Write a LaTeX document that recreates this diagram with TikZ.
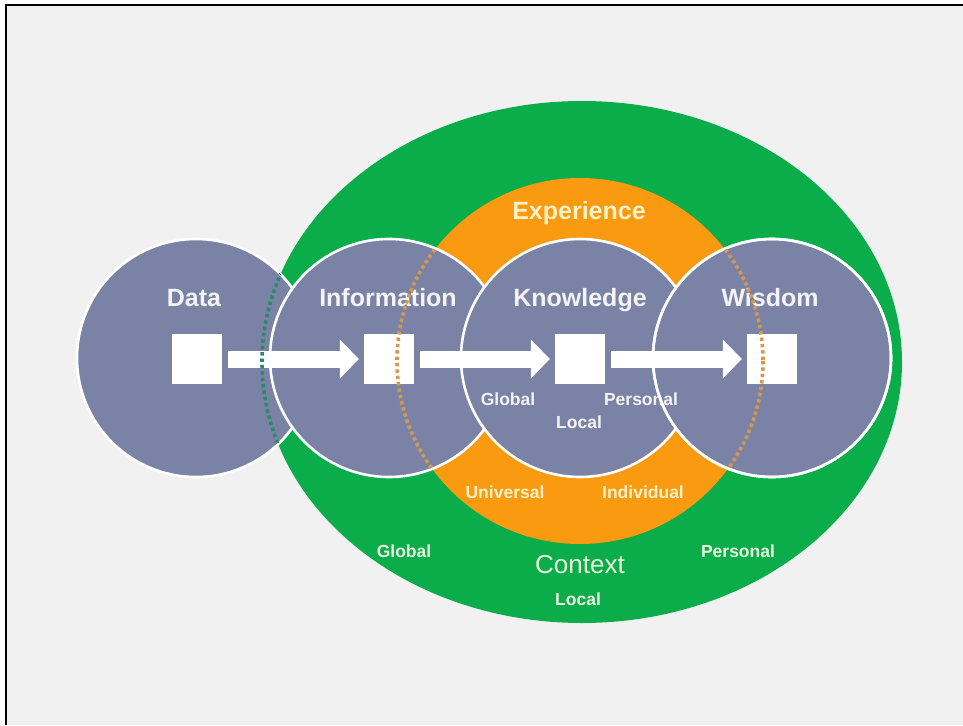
\documentclass[tikz,border=0pt]{standalone}
\usepackage{fontspec}
\setmainfont{Liberation Sans}
\usetikzlibrary{arrows.meta}

\definecolor{pagebg}{HTML}{F1F1F1}
\definecolor{ctxgreen}{HTML}{0BAD4B}
\definecolor{exporange}{HTML}{FA9A10}
\definecolor{slate}{HTML}{7A83A5}
\definecolor{greendot}{HTML}{2A8A66}
\definecolor{orangedot}{HTML}{D6984C}
\definecolor{labelwhite}{HTML}{F4F4F6}
\definecolor{cream}{HTML}{FFF2C8}
\definecolor{palegreen}{HTML}{EAF4DC}

\tikzset{
  stage/.style={circle, minimum size=238pt, inner sep=0pt, fill=slate, draw=white, line width=2.6pt},
  ring/.style={draw=white, line width=2.6pt},
  token/.style={rectangle, minimum size=50pt, inner sep=0pt, fill=white},
  flow/.style={white, line width=17pt, shorten <=6pt, shorten >=5pt,
    -{Triangle[length=19pt,width=38pt]}},
  biglabel/.style={anchor=base, inner sep=0pt, font=\fontsize{25}{28}\selectfont\bfseries, text=labelwhite},
  smalllabel/.style={anchor=base, inner sep=0pt, font=\fontsize{17.5}{20}\selectfont\bfseries},
  dotline/.style={line width=3.6pt, dash pattern=on 3.4pt off 3pt}
}

\begin{document}
\begin{tikzpicture}[x=1pt, y=-1pt]
  \useasboundingbox (0,0) rectangle (963,725);
  \fill[white] (0,0) rectangle (963,725);
  \fill[pagebg] (6,5) rectangle (963,725);
  \draw[black, line width=2pt] (6,725) -- (6,5) -- (963,5);

  % context and experience backgrounds
  \fill[ctxgreen] (582,362) ellipse [x radius=320, y radius=261];
  \fill[exporange] (580,361) circle [radius=183];

  % the four stages
  \node[stage] (data) at (196,358) {};
  \node[stage] (info) at (389,358) {};
  \node[stage] (know) at (580,358) {};
  \node[stage] (wis)  at (772,358) {};

  % tokens and flow arrows
  \node[token] (sqdata) at (197,359) {};
  \node[token] (sqinfo) at (389,359) {};
  \node[token] (sqknow) at (580,359) {};
  \node[token] (sqwis)  at (772,359) {};
  \draw[flow] (sqdata.east) -- (sqinfo.west);
  \draw[flow] (sqinfo.east) -- (sqknow.west);
  \draw[flow] (sqknow.east) -- (sqwis.west);

  % stage titles
  \node[biglabel] (tdata) at (194,306) {Data};
  \node[biglabel] (tinfo) at (388,306) {Information};
  \node[biglabel] (tknow) at (580,306) {Knowledge};
  \node[biglabel] (twis)  at (770,306) {Wisdom};
  \node[biglabel, text=cream] (texp) at (579,219) {Experience};

  % knowledge scopes
  \node[smalllabel, text=labelwhite] (kglob) at (508,405) {Global};
  \node[smalllabel, text=labelwhite] (kpers) at (641,405) {Personal};
  \node[smalllabel, text=labelwhite] (kloc)  at (579,428) {Local};

  % experience scopes
  \node[smalllabel, text=cream] (euni) at (505,498) {Universal};
  \node[smalllabel, text=cream] (eind) at (643,498) {Individual};

  % context scopes
  \node[smalllabel, text=palegreen] (cglob) at (404,557) {Global};
  \node[smalllabel, text=palegreen] (cpers) at (738,557) {Personal};
  \node[anchor=base, inner sep=0pt, font=\fontsize{26}{30}\selectfont, text=palegreen] (ctx) at (580,573) {Context};
  \node[smalllabel, text=palegreen] (cloc) at (578,605) {Local};

  % wisdom rim passes over the knowledge labels
  \draw[ring] (wis) circle [radius=119];

  % hidden outlines of context and experience, dotted across the stages
  \begin{scope}
    \clip (data) circle [radius=119] (info) circle [radius=119]
          (know) circle [radius=119] (wis) circle [radius=119];
    \draw[dotline, greendot] (582,362) ellipse [x radius=320, y radius=261];
    \draw[dotline, orangedot] (580,361) circle [radius=183];
  \end{scope}
\end{tikzpicture}
\end{document}
